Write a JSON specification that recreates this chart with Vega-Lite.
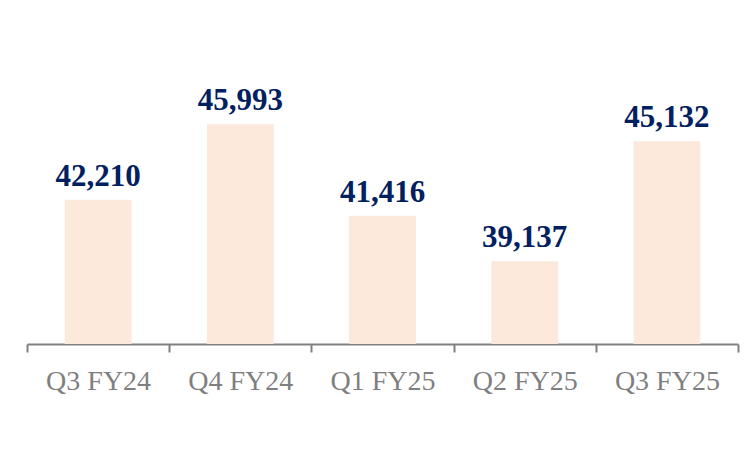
{
  "$schema": "https://vega.github.io/schema/vega-lite/v6.json",
  "autosize": {"type": "none"},
  "width": 711,
  "height": 300,
  "padding": {"left": 27, "top": 44, "right": 6, "bottom": 127},
  "background": "white",
  "config": {"view": {"stroke": null}},
  "data": {"values": [
    {"quarter": "Q3 FY24", "value": 42210},
    {"quarter": "Q4 FY24", "value": 45993},
    {"quarter": "Q1 FY25", "value": 41416},
    {"quarter": "Q2 FY25", "value": 39137},
    {"quarter": "Q3 FY25", "value": 45132}
  ]},
  "encoding": {
    "x": {"field": "quarter", "type": "nominal", "sort": null,
      "scale": {"paddingInner": 0, "paddingOuter": 0},
      "axis": {"title": null, "labelAngle": 0, "domainColor": "#808080", "domainWidth": 2,
        "tickColor": "#808080", "tickWidth": 2, "tickSize": 8, "tickBand": "extent",
        "labelFont": "Liberation Serif", "labelFontSize": 28, "labelColor": "#7f7f7f",
        "labelPadding": 15}},
    "y": {"field": "value", "type": "quantitative",
      "scale": {"domain": [35000, 50000], "zero": false}, "axis": null}
  },
  "layer": [
    {"mark": {"type": "bar", "color": "#fde9db", "width": {"band": 0.47}},
     "encoding": {"y2": {"datum": 35000}}},
    {"mark": {"type": "text", "baseline": "bottom", "dy": -7, "font": "Liberation Serif",
      "fontWeight": "bold", "fontSize": 31, "color": "#002060"},
     "encoding": {"text": {"field": "value", "type": "quantitative", "format": ","}}}
  ]
}
